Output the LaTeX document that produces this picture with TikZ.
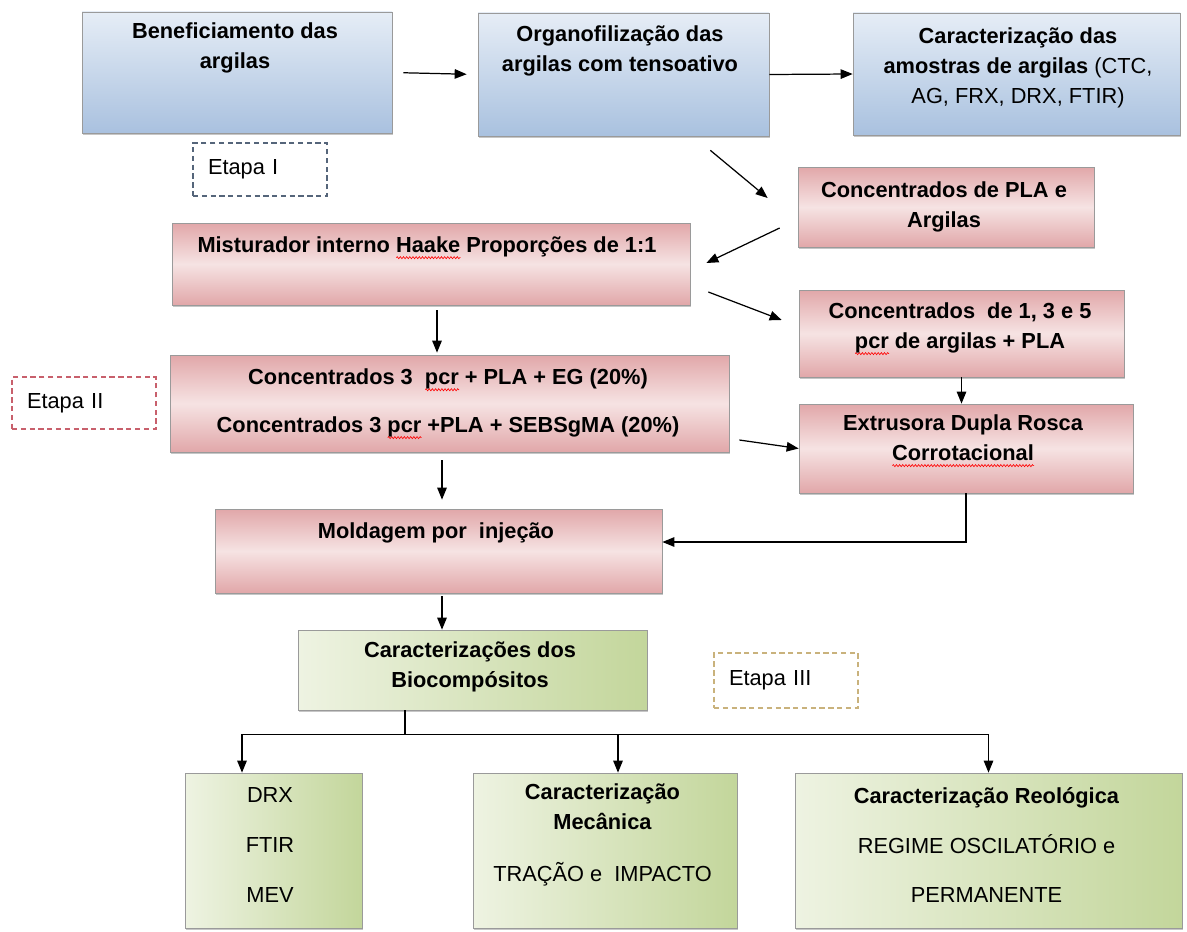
\documentclass[tikz,border=0pt]{standalone}
\usepackage{fontspec}
\setmainfont{Liberation Sans}
\usetikzlibrary{arrows.meta,shadows,decorations.pathmorphing}
\definecolor{blueL}{HTML}{E6EDF6}
\definecolor{blueD}{HTML}{A9C1DF}
\definecolor{pinkL}{HTML}{F6E3E3}
\definecolor{pinkD}{HTML}{E1A7A9}
\definecolor{greenL}{HTML}{EEF3E2}
\definecolor{greenD}{HTML}{C3D69B}
\definecolor{frameG}{HTML}{9A9A9A}
\definecolor{dashI}{HTML}{55657A}
\definecolor{dashII}{HTML}{C8606C}
\definecolor{dashIII}{HTML}{C9B27C}
% red wavy underline (spell check marks)
\newcommand\redwave[1]{\setbox0\hbox{#1}\rlap{\tikz[baseline=0pt]\draw[red, line width=0.35pt,
    decorate, decoration={zigzag, amplitude=0.6pt, segment length=1.8pt}]
    (0pt,-2.8pt) -- (\the\wd0,-2.8pt);}\box0\relax}

\begin{document}
\begin{tikzpicture}[
    box/.style={draw=frameG, line width=0.4pt, inner sep=0pt,
        drop shadow={shadow xshift=0.4pt, shadow yshift=-1.4pt, opacity=0.45}},
    bluebox/.style={box, top color=blueL, bottom color=blueD},
    pinkbox/.style={box, top color=pinkD, bottom color=pinkD, middle color=pinkL},
    greenbox/.style={box, left color=greenL, right color=greenD},
    ttl/.style={align=center, font=\fontsize{12.4}{17}\selectfont\bfseries},
    txt/.style={align=center, font=\fontsize{12.4}{17}\selectfont},
    etapa/.style={dash pattern=on 3pt off 2pt, line width=0.6pt, inner xsep=0.3cm,
        inner ysep=0pt, align=left, font=\fontsize{12.4}{17}\selectfont},
    arr/.style={-{Triangle[length=2.4mm,width=1.9mm]}, line width=0.7pt}
]
    \useasboundingbox (0,0) rectangle (23.74,-18.62);
    % Etapa I
    \node[bluebox, minimum width=6.2cm, minimum height=2.42cm] (benef) at (4.74,-1.45) {};
    \node[ttl] (benefT) at (4.70,-0.96) {Beneficiamento das\\argilas};
    \node[bluebox, minimum width=5.82cm, minimum height=2.46cm] (organo) at (12.47,-1.49) {};
    \node[ttl] (organoT) at (12.40,-1.02) {Organofilização das\\argilas com tensoativo};
    \node[bluebox, minimum width=6.54cm, minimum height=2.44cm] (caract) at (20.33,-1.48) {};
    \node[ttl] (caractT) at (20.36,-1.35) {Caracterização das\\amostras de argilas {\mdseries (CTC,}\\{\mdseries AG, FRX, DRX, FTIR)}};
    \node[etapa, draw=dashI, minimum height=1.06cm, text width=2.08cm] (et1) at (5.2,-3.39) {Etapa I};
    \node[pinkbox, minimum width=5.92cm, minimum height=1.6cm] (conc) at (18.92,-4.14) {};
    \node[ttl] (concT) at (18.88,-4.13) {Concentrados de PLA e\\Argilas};
    % Etapa II
    \node[pinkbox, minimum width=10.36cm, minimum height=1.64cm] (mist) at (8.62,-5.28) {};
    \node[ttl] (mistT) at (8.54,-4.96) {Misturador interno \redwave{Haake} Proporções de 1:1};
    \node[pinkbox, minimum width=6.5cm, minimum height=1.74cm] (conc1) at (19.23,-6.67) {};
    \node[ttl] (conc1T) at (19.2,-6.58) {Concentrados~ de 1, 3 e 5\\\redwave{pcr} de argilas + PLA};
    \node[pinkbox, minimum width=11.18cm, minimum height=1.94cm] (conc3) at (8.99,-8.07) {};
    \node[ttl] (conc3T) at (8.96,-8.08) {Concentrados 3~ \redwave{pcr} + PLA + EG (20\%)\\[0.36cm]Concentrados 3 \redwave{pcr} +PLA + SEBSgMA (20\%)};
    \node[etapa, draw=dashII, minimum height=1.04cm, text width=2.28cm] (et2) at (1.68,-8.06) {Etapa II};
    \node[pinkbox, minimum width=6.68cm, minimum height=1.78cm] (extr) at (19.32,-8.97) {};
    \node[ttl] (extrT) at (19.26,-8.82) {Extrusora Dupla Rosca\\\redwave{Corrotacional}};
    \node[pinkbox, minimum width=8.94cm, minimum height=1.68cm] (mold) at (8.77,-11.02) {};
    \node[ttl] (moldT) at (8.72,-10.66) {Moldagem por~ injeção};
    % Etapa III
    \node[greenbox, minimum width=6.98cm, minimum height=1.6cm] (bio) at (9.45,-13.4) {};
    \node[ttl] (bioT) at (9.4,-13.33) {Caracterizações dos\\Biocompósitos};
    \node[etapa, draw=dashIII, minimum height=1.1cm, text width=2.28cm] (et3) at (15.72,-13.61) {Etapa III};
    \node[greenbox, minimum width=3.54cm, minimum height=3.1cm] (drx) at (5.47,-17.01) {};
    \node[txt] (drxT) at (5.4,-16.9) {DRX\\[0.4cm]FTIR\\[0.4cm]MEV};
    \node[greenbox, minimum width=5.28cm, minimum height=3.1cm] (mec) at (12.1,-17.01) {};
    \node[txt] (mecT) at (12.05,-16.7) {\textbf{Caracterização}\\\textbf{Mecânica}\\[0.44cm]TRAÇÃO e~ IMPACTO};
    \node[greenbox, minimum width=7.74cm, minimum height=3.1cm] (reol) at (19.77,-17.01) {};
    \node[txt] (reolT) at (19.73,-16.9) {\textbf{Caracterização Reológica}\\[0.4cm]REGIME OSCILATÓRIO e\\[0.4cm]PERMANENTE};
    % arrows
    \draw[arr, shorten <=0.22cm, shorten >=0.22cm] (benef.east) -- (organo.west);
    \draw[arr] (organo.east) -- (caract.west);
    \draw[arr] ([shift={(-1.18,-0.28)}]organo.south east) -- ([shift={(-0.6,0.18)}]conc.west);
    \draw[arr] ([shift={(-0.36,-0.42)}]conc.west) -- ([shift={(0.32,0.02)}]mist.east);
    \draw[arr] ([shift={(0.36,-0.56)}]mist.east) -- ([shift={(-0.34,0.27)}]conc1.west);
    \draw[arr, shorten <=0.1cm, shorten >=0.04cm] ([xshift=0.12cm]mist.south) -- ([xshift=0.12cm]mist.south |- conc3.north);
    \draw[arr] (conc1.south) -- (conc1.south |- extr.north);
    \draw[arr] ([shift={(0.2,-0.73)}]conc3.east) -- (extr.west);
    \draw[arr, shorten <=0.16cm, shorten >=0.18cm] ([xshift=-0.15cm]conc3.south) -- ([xshift=-0.15cm]conc3.south |- mold.north);
    \draw[arr] (extr.south) |- ([yshift=0.18cm]mold.east);
    \draw[arr, shorten <=0.06cm] ([xshift=0.07cm]mold.south) -- ([xshift=0.07cm]mold.south |- bio.north);
    \coordinate (fork) at ([xshift=-1.35cm,yshift=-0.48cm]bio.south);
    \draw[line width=0.7pt] (bio.south -| fork) -- (fork);
    \draw[arr] (fork) -| ([xshift=-0.63cm]drx.north);
    \draw[arr] (fork) -| ([xshift=0.26cm]mec.north);
    \draw[arr] (fork) -| (reol.north);
\end{tikzpicture}
\end{document}
